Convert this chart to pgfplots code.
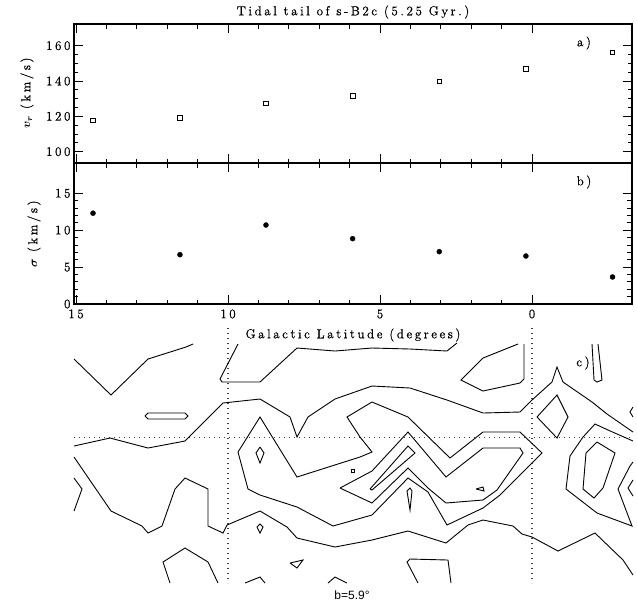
\documentclass[border=0pt]{standalone}
\usepackage{fontspec}
\newfontfamily\lsans{Liberation Sans}
\newfontfamily\hfam{lmroman12-regular.otf}[LetterSpace=20, FakeBold=0.8]
\usepackage{pgfplots}
\pgfplotsset{compat=1.18}
\newcommand{\hf}{\hfam\fontsize{13}{15}\selectfont}
\begin{document}
\begin{tikzpicture}
\useasboundingbox (0pt,0pt) rectangle (637pt,-603pt);
\pgfplotsset{
  panel/.style={
    scale only axis, anchor=north west, width=558pt,
    x dir=reverse, xmin=-3.29, xmax=15.066,
    xtick={0,5,10,15}, minor x tick num=4,
    tick align=inside, xtick pos=both, ytick pos=both,
    major tick length=9pt, minor tick length=4.5pt,
    axis line style={line width=1.6pt},
    tick style={black, line width=0.8pt},
    ticklabel style={font=\hf},
    xticklabel style={yshift=-2pt},
    /pgf/number format/assume math mode=true,
  },
  cl/.style={black, line width=0.9pt, no marks},
}
% panel a
\begin{axis}[panel, at={(74pt,-24pt)}, height=139pt,
  ymin=93.6, ymax=172.3, ytick={100,120,140,160}, minor y tick num=3,
  xticklabels={}]
\addplot[only marks, mark=square, mark size=2.3pt, mark options={line width=0.8pt}] coordinates {
  (14.44,117.8) (11.58,119.1) (8.75,127.4) (5.90,131.5) (3.05,139.9) (0.20,147.0) (-2.65,156.3)
};
\end{axis}
% panel b
\begin{axis}[panel, at={(74pt,-163pt)}, height=141pt,
  ymin=0, ymax=19.1, ytick={0,5,10,15}, minor y tick num=4]
\addplot[only marks, mark=*, mark size=2.5pt] coordinates {
  (14.44,12.3) (11.58,6.68) (8.75,10.7) (5.90,8.85) (3.05,7.09) (0.20,6.5) (-2.65,3.66)
};
\end{axis}
% panel c (contours, in picture pixels)
\begin{axis}[at={(0pt,0pt)}, anchor=north west, scale only axis,
  width=637pt, height=603pt, xmin=0, xmax=637, ymin=0, ymax=603,
  y dir=reverse, hide axis, clip=false]
\addplot[black!75, line width=1.2pt, dash pattern=on 1.2pt off 3.8pt] coordinates {(228,328) (228,583)};
\addplot[black!75, line width=1.2pt, dash pattern=on 1.2pt off 3.8pt] coordinates {(532,328) (532,583)};
\addplot[black!75, line width=1.2pt, dash pattern=on 1.2pt off 3.8pt] coordinates {(74,437.5) (633,437.5)};
\addplot[cl] coordinates {(74,359) (111,395) (148,359) (186,347) (193,344)};
\addplot[cl] coordinates {(145,416) (148,413) (185,413) (188,416) (185,419) (148,419) (145,416)};
\addplot[cl] coordinates {(238,344) (220,379) (222,382) (260,382) (297,348) (335,351) (372,348) (410,349) (447,351) (457,343)};
\addplot[cl] coordinates {(74,446) (110,438) (148,448) (185,441) (223,403) (260,399) (290,417) (297,437) (308,417) (335,399) (372,386) (410,388) (447,400) (483,413) (520,412) (532,400) (552,382) (557,367) (563,382) (592,402) (607,414) (633,432)};
\addplot[cl] coordinates {(518,344) (483,358) (461,380) (483,391) (520,383) (524,379) (524,344)};
\addplot[cl] coordinates {(592,344) (594,380) (597,382) (602,380) (598,344)};
\addplot[cl] coordinates {(633,407) (630,412) (633,417)};
\addplot[cl] coordinates {(537,417) (557,395) (568,417) (557,438) (537,417)};
\addplot[cl] coordinates {(633,441) (608,430) (595,424) (583,437) (570,456) (566,489) (597,513) (632,526) (618,489) (630,466) (633,462)};
\addplot[cl] coordinates {(597,442) (615,453) (603,488) (594,498) (583,489) (586,453) (597,442)};
\addplot[cl] coordinates {(633,480) (628,488) (633,496)};
\addplot[cl] coordinates {(74,457) (111,511) (142,526) (148,533) (162,526) (175,489) (185,478) (208,489) (208,526) (223,533) (227,525) (260,511) (287,527) (297,538) (335,547) (372,540) (408,531) (446,543) (468,525) (483,520) (513,526) (522,534) (532,537) (558,551) (595,533) (623,560) (633,575)};
\addplot[cl] coordinates {(74,478) (82,489) (74,511)};
\addplot[cl] coordinates {(170,583) (163,562) (185,548) (208,562) (218,583)};
\addplot[cl] coordinates {(245,583) (260,577) (265,583)};
\addplot[cl] coordinates {(328,583) (335,577) (347,583)};
\addplot[cl] coordinates {(418,583) (407,562) (410,559) (448,560) (451,583)};
\addplot[cl] coordinates {(290,563) (303,560) (297,568) (290,563)};
\addplot[cl] coordinates {(257,527) (260,524) (263,527) (260,533) (257,527)};
\addplot[cl] coordinates {(483,508) (500,495) (520,475) (542,453) (520,432) (483,432) (450,458) (408,417) (372,402) (347,417) (360,437) (372,452) (360,457) (297,477) (260,417) (238,452) (248,489) (260,495) (297,507) (333,526) (372,515) (408,478) (428,492) (447,525) (483,508)};
\addplot[cl] coordinates {(340,488) (372,471) (408,432) (446,477) (483,448) (520,448) (523,453) (497,490) (483,500) (446,503) (428,488) (408,468) (372,503) (340,488)};
\addplot[cl] coordinates {(370,489) (408,446) (415,453) (372,490) (370,489)};
\addplot[cl] coordinates {(476,489) (483,487) (484,491) (476,489)};
\addplot[cl] coordinates {(407,491) (410,488) (412,491) (410,510) (407,491)};
\addplot[cl] coordinates {(260,447) (264,453) (260,463) (256,453) (260,447)};
\addplot[only marks, mark=square, mark size=1.5pt, mark options={line width=0.7pt}] coordinates {(353,471)};
% texts
\node[font=\hf] at (axis cs:353,12) {Tidal tail of s-B2c (5.25 Gyr.)};
\node[font=\hf] at (axis cs:353,335) {Galactic Latitude (degrees)};
\node[font=\hf] at (axis cs:584,43) {a)};
\node[font=\hf] at (axis cs:584,182) {b)};
\node[font=\hf] at (axis cs:583,363) {c)};
\node[font=\hf, rotate=90] at (axis cs:27,93) {{\boldmath$v_r$} (km/s)};
\node[font=\hf, rotate=90] at (axis cs:34,234) {{\boldmath$\sigma$} (km/s)};
\node[font=\lsans\fontsize{12}{14}\selectfont] at (axis cs:352,595) {b=5.9°};
\end{axis}
\end{tikzpicture}
\end{document}
